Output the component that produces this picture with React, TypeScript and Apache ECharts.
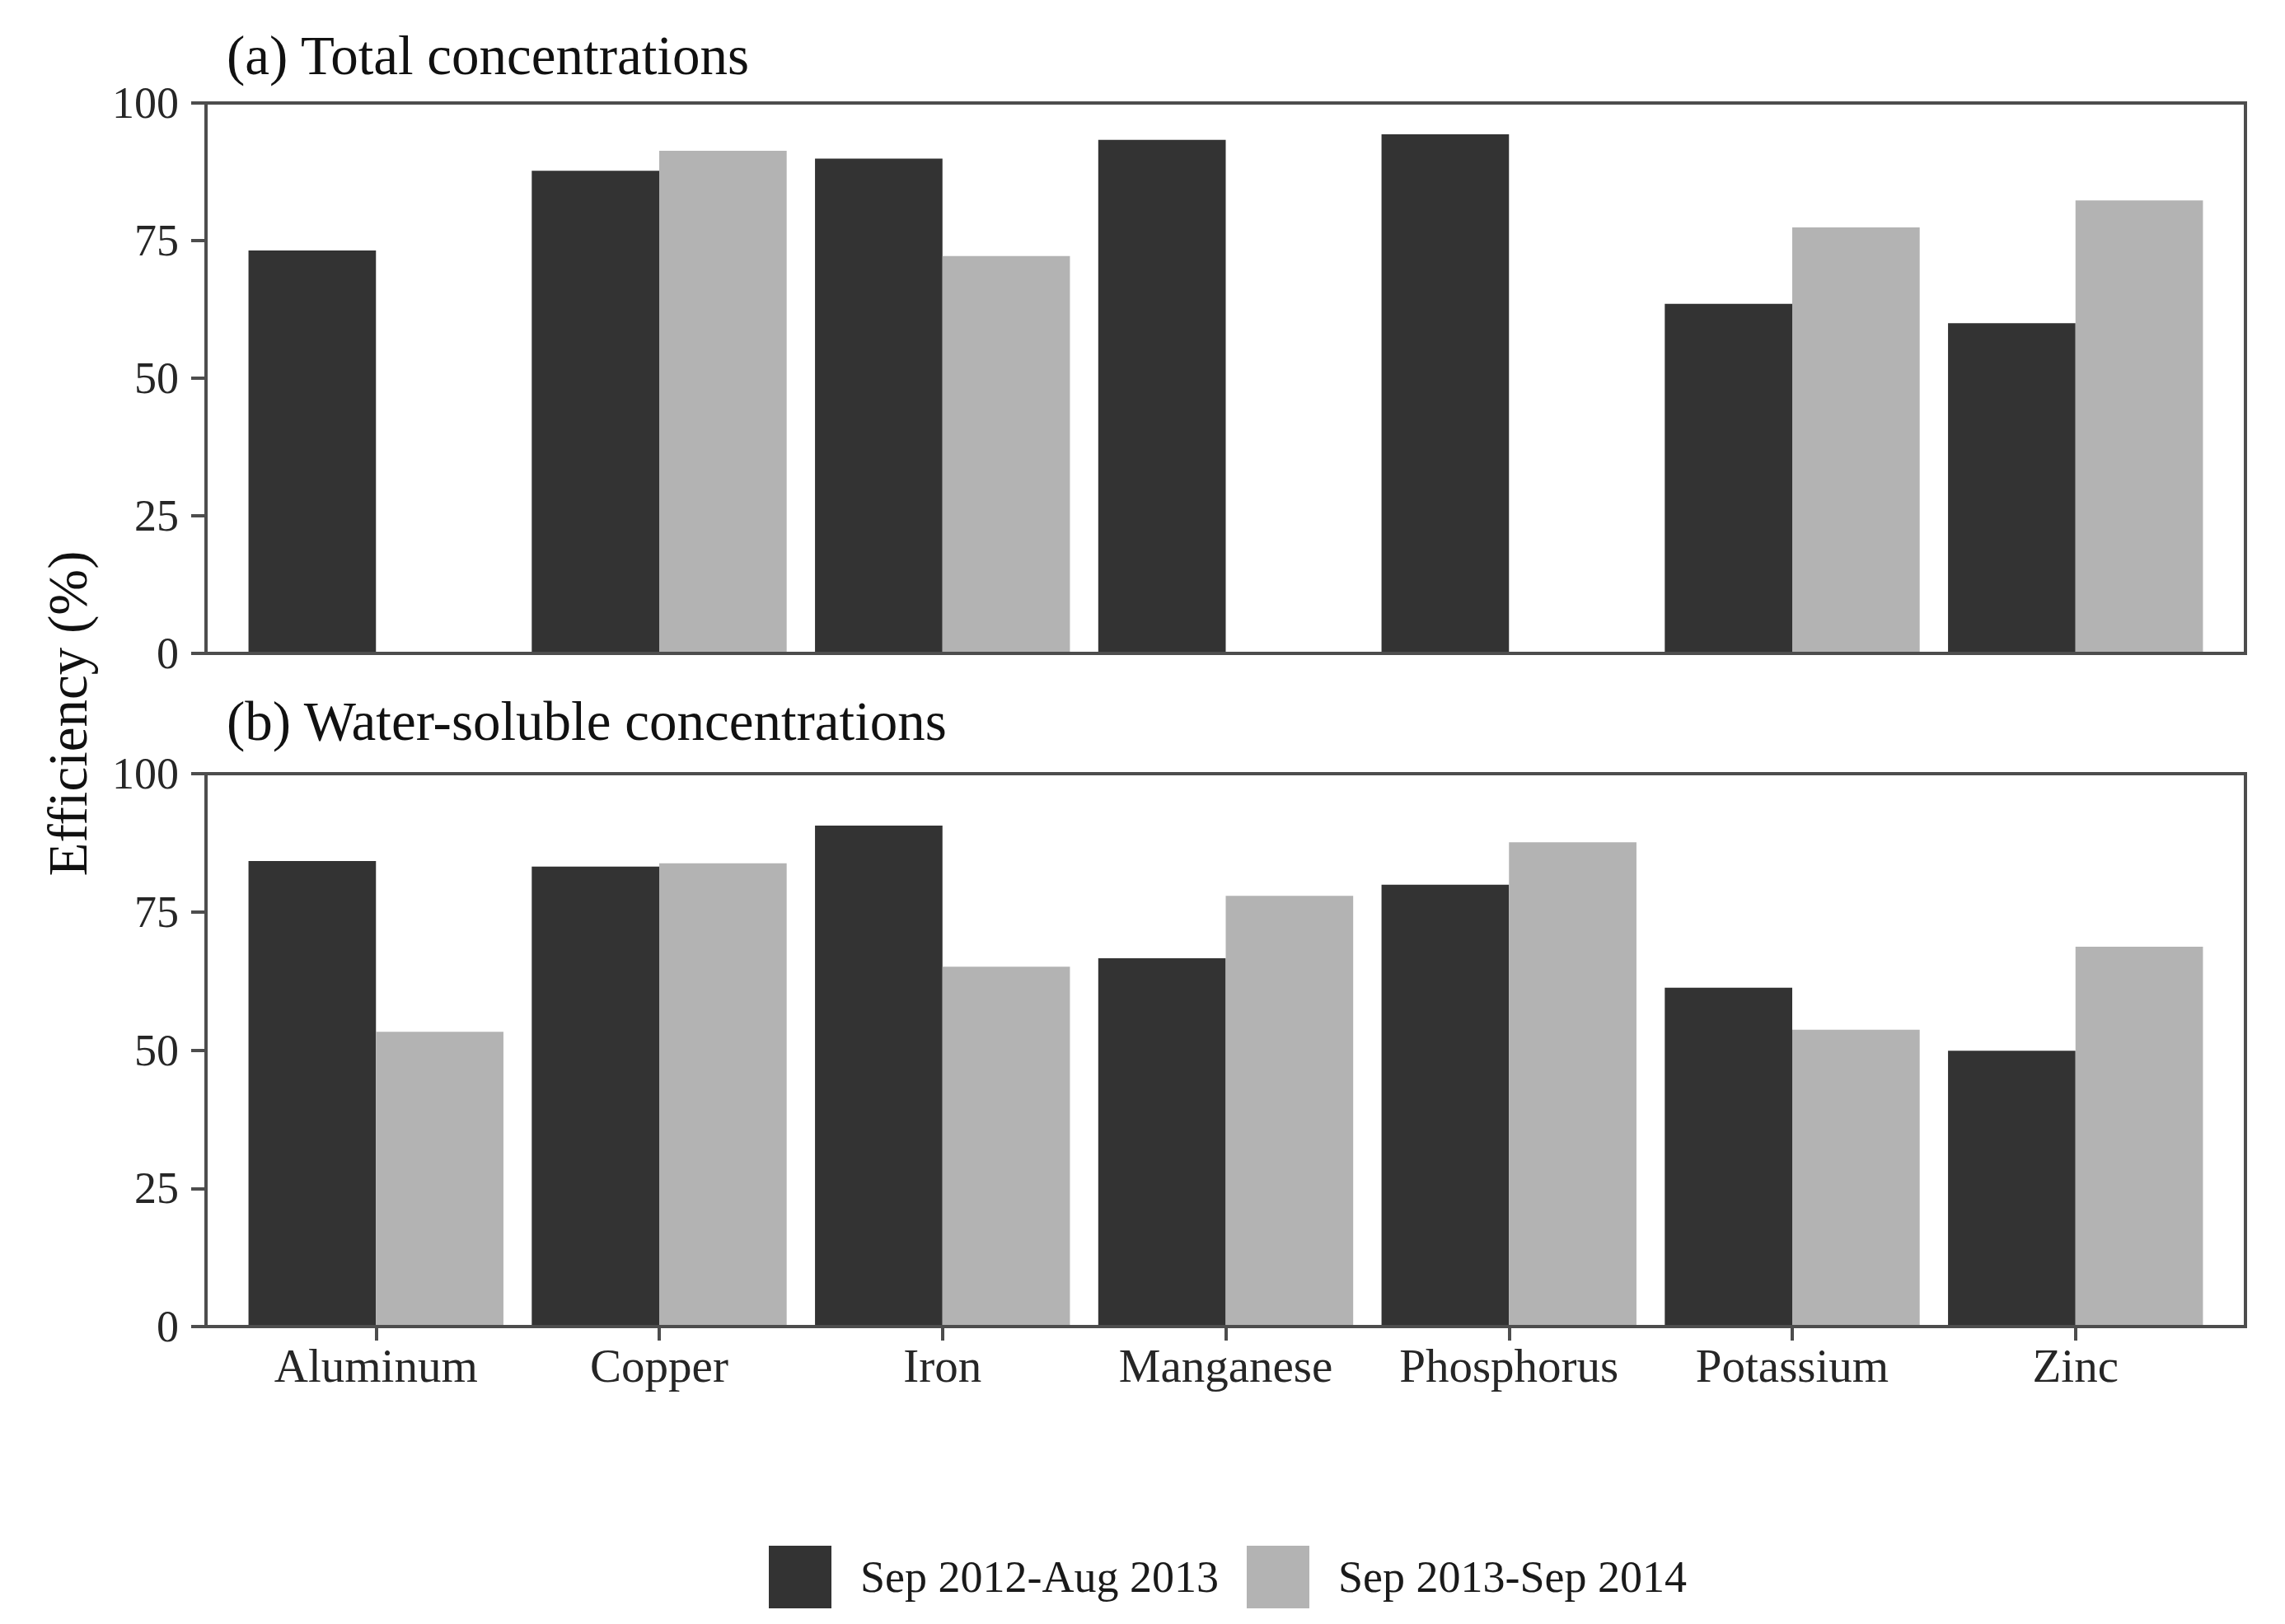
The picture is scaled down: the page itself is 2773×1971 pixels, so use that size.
import React, { useEffect, useRef } from "react";
import * as echarts from "echarts";

const categories = ["Aluminum", "Copper", "Iron", "Manganese", "Phosphorus", "Potassium", "Zinc"];
const seriesNames = ["Sep 2012-Aug 2013", "Sep 2013-Sep 2014"];
const totalPeriod1 = [73.2, 87.7, 89.9, 93.3, 94.3, 63.5, 60.0];
const totalPeriod2 = [null, 91.3, 72.2, null, null, 77.4, 82.3];
const solublePeriod1 = [84.2, 83.2, 90.6, 66.6, 79.9, 61.3, 49.9];
const solublePeriod2 = [53.3, 83.8, 65.1, 77.9, 87.6, 53.7, 68.7];
const panelTitles = ["(a) Total concentrations", "(b) Water-soluble concentrations"];
const yAxisTitle = "Efficiency (%)";
const yMin = 0;
const yMax = 100;
const yInterval = 25;

const W = 2773;
const H = 1971;
const FONT = "'Liberation Serif', 'Times New Roman', serif";
const DARK = "#333333";
const LIGHT = "#b3b3b3";
const LINE = "#4d4d4d";

const panelLeft = 250;
const panelWidth = 2475;
const panels = [
  { top: 125, height: 668 },
  { top: 939, height: 671 },
];
const unit = panelWidth / 7.2;
const innerLeft = panelLeft + 0.1 * unit;
const innerWidth = 7 * unit;

export default function App() {
  const ref = useRef<HTMLDivElement>(null);
  useEffect(() => {
    document.body.style.margin = "0";
    if (!ref.current) return;
    const chart = echarts.init(ref.current, null, { renderer: "svg" });
    const axisText = { fontFamily: FONT, fontSize: 54, color: "#262626" };
    const option: any = {
      animation: false,
      backgroundColor: "#ffffff",
      textStyle: { fontFamily: FONT },
      grid: [
        { left: panelLeft, width: panelWidth, top: panels[0].top, height: panels[0].height },
        { left: panelLeft, width: panelWidth, top: panels[1].top, height: panels[1].height },
        { left: innerLeft, width: innerWidth, top: panels[0].top, height: panels[0].height },
        { left: innerLeft, width: innerWidth, top: panels[1].top, height: panels[1].height },
      ],
      xAxis: [
        { type: "value", gridIndex: 0, min: 0, max: 1, show: false },
        { type: "value", gridIndex: 1, min: 0, max: 1, show: false },
        {
          type: "category", gridIndex: 2, data: categories, boundaryGap: true,
          axisLine: { show: false }, axisTick: { show: false }, axisLabel: { show: false },
        },
        {
          type: "category", gridIndex: 3, data: categories, boundaryGap: true,
          axisLine: { show: false },
          axisTick: { show: true, interval: 0, alignWithLabel: true, length: 17, lineStyle: { color: LINE, width: 4 } },
          axisLabel: { ...axisText, fontSize: 57, margin: 19, interval: 0, hideOverlap: false },
        },
      ],
      yAxis: [0, 1].map((g) => ({
        type: "value", gridIndex: g, min: yMin, max: yMax, interval: yInterval,
        axisLine: { show: false },
        splitLine: { show: false },
        axisTick: { show: true, length: 18, lineStyle: { color: LINE, width: 4 } },
        axisLabel: { ...axisText, margin: 33 },
      })).concat([2, 3].map((g) => ({
        type: "value", gridIndex: g, min: yMin, max: yMax, interval: yInterval, show: false,
        splitLine: { show: false },
      })) as any),
      legend: {
        left: 928, top: 1871, itemWidth: 76, itemHeight: 76, itemGap: 34,
        icon: "rect", data: seriesNames,
        textStyle: { fontFamily: FONT, fontSize: 54, color: "#1a1a1a", padding: [0, 0, 0, 30] },
      },
      series: [
        { name: seriesNames[0], data: totalPeriod1, xi: 2 },
        { name: seriesNames[1], data: totalPeriod2, xi: 2 },
        { name: seriesNames[0], data: solublePeriod1, xi: 3 },
        { name: seriesNames[1], data: solublePeriod2, xi: 3 },
      ].map((s, i) => ({
        type: "bar", name: s.name,
        data: s.data.map((v) => (v === null ? "-" : v)),
        xAxisIndex: s.xi, yAxisIndex: s.xi,
        barWidth: "45%", barGap: "0%",
        itemStyle: { color: i % 2 === 0 ? DARK : LIGHT },
        emphasis: { disabled: true },
      })),
      graphic: [
        ...panels.map((p) => ({
          type: "rect", z: 100, silent: true,
          shape: { x: panelLeft, y: p.top, width: panelWidth, height: p.height },
          style: { fill: "none", stroke: LINE, lineWidth: 4 },
        })),
        { type: "text", left: 275, top: 67 - 34, z: 100,
          style: { text: panelTitles[0], font: `67px ${FONT}`, fill: "#111", verticalAlign: "top" } },
        { type: "text", left: 275, top: 875 - 34, z: 100,
          style: { text: panelTitles[1], font: `67px ${FONT}`, fill: "#111", verticalAlign: "top" } },
        { type: "text", x: 82, y: 866, rotation: Math.PI / 2, z: 100,
          style: { text: yAxisTitle, font: `67px ${FONT}`, fill: "#111", align: "center", verticalAlign: "middle" } },
      ],
    };
    chart.setOption(option);
    return () => chart.dispose();
  }, []);
  return <div ref={ref} style={{ width: W, height: H }} />;
}
